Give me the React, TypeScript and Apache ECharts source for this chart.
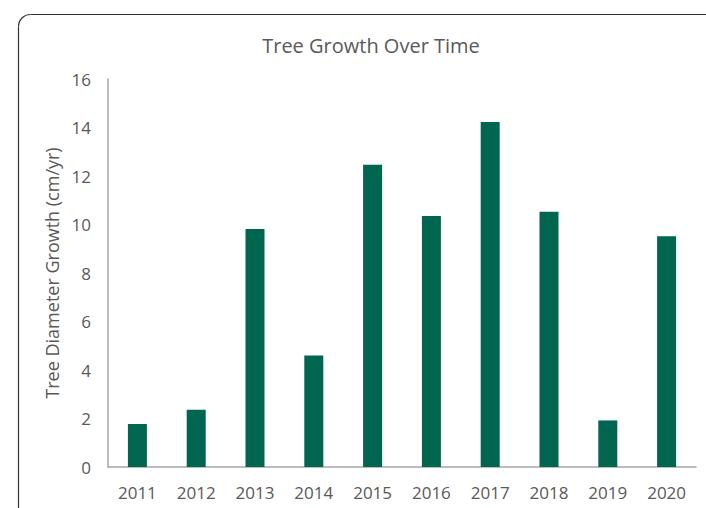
import React, { useEffect, useRef } from "react";
import * as echarts from "echarts";

const years = ["2011", "2012", "2013", "2014", "2015", "2016", "2017", "2018", "2019", "2020"];
const growth = [1.77, 2.36, 9.81, 4.6, 12.46, 10.35, 14.23, 10.53, 1.92, 9.52];
const titleText = "Tree Growth Over Time";
const yAxisName = "Tree Diameter Growth (cm/yr)";

export default function App() {
  const ref = useRef<HTMLDivElement>(null);
  useEffect(() => {
    if (!ref.current) return;
    const chart = echarts.init(ref.current, undefined, { renderer: "svg" });
    const textColor = "#595959";
    const font = "'Open Sans', 'Noto Sans', sans-serif";
    const border = { stroke: "#333333", lineWidth: 1.2, fill: "none" };
    chart.setOption({
      animation: false,
      backgroundColor: "#ffffff",
      graphic: [
        { type: "line", shape: { x1: 30.5, y1: 14.5, x2: 706, y2: 14.5 }, style: border, silent: true },
        { type: "line", shape: { x1: 18.5, y1: 26.5, x2: 18.5, y2: 508 }, style: border, silent: true },
        {
          type: "arc",
          shape: { cx: 30.5, cy: 26.5, r: 12, startAngle: Math.PI, endAngle: Math.PI * 1.5 },
          style: border,
          silent: true,
        },
      ],
      title: {
        text: titleText,
        left: 366,
        top: 30,
        textAlign: "center",
        textStyle: { color: textColor, fontSize: 20, fontWeight: "normal", fontFamily: font },
      },
      grid: { left: 108, right: 10, top: 79, bottom: 41, containLabel: false },
      xAxis: {
        type: "category",
        data: years,
        axisLine: { show: true, lineStyle: { color: "#a6a6a6", width: 1.5 } },
        axisTick: { show: false },
        axisLabel: { color: textColor, fontSize: 17, fontFamily: font, margin: 17 },
      },
      yAxis: {
        type: "value",
        min: 0,
        max: 16,
        interval: 2,
        name: yAxisName,
        nameLocation: "middle",
        nameGap: 46,
        nameTextStyle: { color: textColor, fontSize: 18, fontFamily: font },
        axisLine: { show: true, lineStyle: { color: "#a6a6a6", width: 1.5 } },
        axisTick: { show: false },
        splitLine: { show: false },
        axisLabel: { color: textColor, fontSize: 17, fontFamily: font, margin: 17 },
      },
      series: [
        {
          type: "bar",
          data: growth,
          barWidth: 19,
          itemStyle: { color: "#006650" },
        },
      ],
    });
    return () => chart.dispose();
  }, []);
  return <div ref={ref} style={{ width: 706, height: 508, position: "absolute", left: 0, top: 0 }} />;
}
